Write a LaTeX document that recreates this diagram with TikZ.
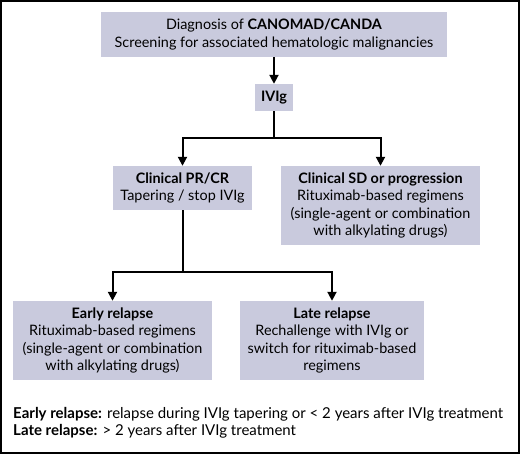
\documentclass[tikz,border=0pt]{standalone}
\usepackage{fontspec}
\setmainfont{Lato}
\usetikzlibrary{arrows.meta}
\definecolor{boxfill}{RGB}{201,202,221}
\tikzset{
  box/.style={fill=boxfill, draw=none, align=center, inner sep=0pt,
    font=\fontsize{14.4}{17.5}\selectfont},
  conn/.style={line width=2pt, draw=black},
  arr/.style={conn, -{Triangle[length=9pt,width=9pt]}},
}
\begin{document}
\begin{tikzpicture}[x=1pt,y=-1pt]
\draw[line width=2pt, fill=white] (1,1) rectangle (519,453);
\node[box, minimum width=346pt, minimum height=45pt] (diag) at (274,34.5)
  {Diagnosis of \textbf{CANOMAD/CANDA}\\Screening for associated hematologic malignancies};
\node[box, minimum width=38pt, minimum height=27pt] (ivig) at (274,97.5) {\textbf{IVIg}};
\node[box, minimum width=139pt, minimum height=44pt] (pr) at (182.5,188)
  {\textbf{Clinical PR/CR}\\Tapering / stop IVIg};
\node[box, minimum width=199pt, minimum height=79pt] (sd) at (380.5,205.5)
  {\textbf{Clinical SD or progression}\\Rituximab-based regimens\\(single-agent or combination\\with alkylating drugs)};
\node[box, minimum width=199pt, minimum height=79pt] (early) at (112.5,340.5)
  {\textbf{Early relapse}\\Rituximab-based regimens\\(single-agent or combination\\with alkylating drugs)};
\node[box, minimum width=184pt, minimum height=79pt] (late) at (332,340.5)
  {\textbf{Late relapse}\\Rechallenge with IVIg or\\switch for rituximab-based\\regimens};
\coordinate (j1) at (274,138);
\coordinate (j2) at (182.5,272);
\draw[arr] (diag) -- (ivig);
\draw[conn] (ivig) -- (j1);
\draw[arr] (j1) -| (pr);
\draw[arr] (j1) -| (sd);
\draw[conn] (pr) -- (j2);
\draw[arr] (j2) -| (early);
\draw[arr] (j2) -| (late);
\node[anchor=north west, align=left, inner sep=0pt, font=\fontsize{15}{17}\selectfont] (foot) at (13,407)
  {\textbf{Early relapse:} relapse during IVIg tapering or < 2 years after IVIg treatment\\
   \textbf{Late relapse:} > 2 years after IVIg treatment};
\end{tikzpicture}
\end{document}
